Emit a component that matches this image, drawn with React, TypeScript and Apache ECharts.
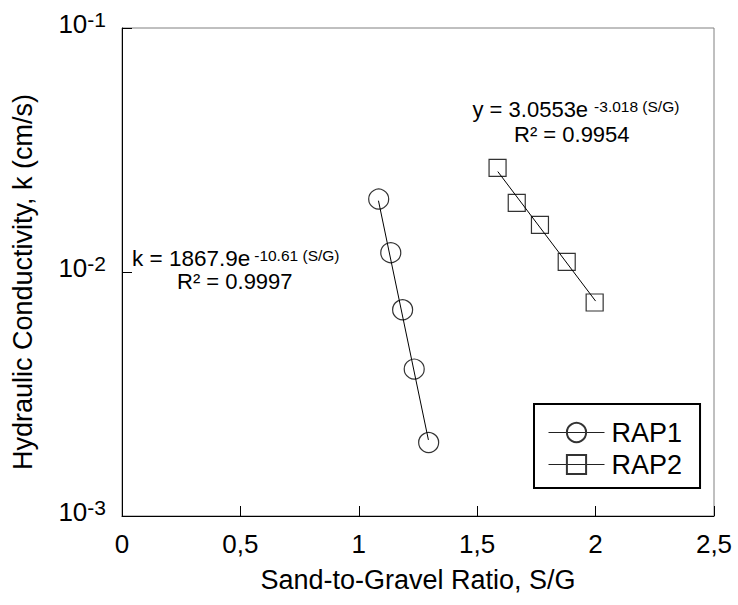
import React, { useEffect, useRef } from 'react';
import * as echarts from 'echarts';

const FONT = 'Arial, "Liberation Sans", Helvetica, sans-serif';

// Axis ticks
const xTickValues = [0, 0.5, 1, 1.5, 2, 2.5];
const xTickLabels = ['0', '0,5', '1', '1,5', '2', '2,5'];
const yTickValues = [0.001, 0.01, 0.1];
const yTickExponents = ['-3', '-2', '-1'];

// Measured data
const seriesNames = ['RAP1', 'RAP2'];
const rap1Ratio = [1.084, 1.135, 1.185, 1.234, 1.295];
const rap1K = [0.0199, 0.012, 0.007, 0.004, 0.002];
const rap2Ratio = [1.586, 1.667, 1.765, 1.878, 1.996];
const rap2K = [0.0267, 0.0192, 0.0156, 0.011, 0.0075];

// Trend line end points
const rap1TrendRatio = [1.083, 1.294];
const rap1TrendK = [0.0196, 0.00205];
const rap2TrendRatio = [1.587, 2.0];
const rap2TrendK = [0.0258, 0.0076];

// Annotation texts
const rap1Equation = 'k = 1867.9e';
const rap1Exponent = '-10.61 (S/G)';
const rap1R2 = 'R² = 0.9997';
const rap2Equation = 'y = 3.0553e';
const rap2Exponent = '-3.018 (S/G)';
const rap2R2 = 'R² = 0.9954';

const xTitle = 'Sand-to-Gravel Ratio, S/G';
const yTitle = 'Hydraulic Conductivity, k (cm/s)';

const zip = (xs: number[], ys: number[]) => xs.map((x, i) => [x, ys[i]]);

export default function App() {
  const ref = useRef<HTMLDivElement>(null);

  useEffect(() => {
    document.body.style.margin = '0';
    if (!ref.current) return;
    const chart = echarts.init(ref.current, undefined, { renderer: 'svg' });

    const makeRich = (mainSize: number, supSize: number, gap: number) => ({
      m: { fontSize: mainSize, lineHeight: 22, fontFamily: FONT, fill: '#000' },
      s: { fontSize: supSize, lineHeight: 8, verticalAlign: 'top', fontFamily: FONT, fill: '#000', padding: [0, 0, 0, gap] },
    });

    const markerStyle = { color: 'rgba(0,0,0,0)', borderColor: '#333', borderWidth: 1.2 };

    chart.setOption({
      animation: false,
      backgroundColor: '#fff',
      grid: { left: 122, right: 24, top: 28, bottom: 89, show: true, borderColor: '#808080', borderWidth: 1 },
      xAxis: {
        type: 'value',
        min: 0,
        max: 2.5,
        interval: 0.5,
        name: xTitle,
        nameLocation: 'middle',
        nameGap: 50,
        nameTextStyle: { fontSize: 27, fontFamily: FONT, color: '#000' },
        axisLine: { lineStyle: { color: '#000', width: 1 } },
        axisTick: { inside: true, length: 10, lineStyle: { color: '#000' } },
        splitLine: { show: false },
        axisLabel: {
          margin: 15,
          fontSize: 26,
          fontFamily: FONT,
          color: '#000',
          formatter: (v: number) => {
            const i = xTickValues.findIndex((t) => Math.abs(t - v) < 1e-9);
            return i >= 0 ? xTickLabels[i] : '';
          },
        },
      },
      yAxis: {
        type: 'log',
        logBase: 10,
        min: yTickValues[0],
        max: yTickValues[yTickValues.length - 1],
        name: yTitle,
        nameLocation: 'middle',
        nameRotate: 90,
        nameGap: 86,
        nameTextStyle: { fontSize: 27, fontFamily: FONT, color: '#000', padding: [0, 20, 0, 0] },
        axisLine: { show: true, lineStyle: { color: '#000', width: 1 } },
        axisTick: { show: true, inside: true, length: 10, lineStyle: { color: '#000' } },
        minorTick: { show: false },
        splitLine: { show: false },
        axisLabel: {
          margin: 16,
          padding: [0, 0, 8, 0],
          formatter: (v: number) => {
            const e = Math.round(Math.log10(v));
            const i = yTickValues.findIndex((t) => Math.round(Math.log10(t)) === e);
            return i >= 0 ? `{b|10}{s|${yTickExponents[i]}}` : '';
          },
          rich: {
            b: { fontSize: 26, lineHeight: 30, fontFamily: FONT, color: '#000' },
            s: { fontSize: 21, lineHeight: 14, verticalAlign: 'top', fontFamily: FONT, color: '#000' },
          },
        },
      },
      legend: {
        orient: 'vertical',
        left: 534,
        top: 404,
        selectedMode: false,
        borderColor: '#000',
        borderWidth: 2,
        padding: [15, 18, 10, 14],
        itemGap: 5,
        itemWidth: 56,
        itemHeight: 24,
        textStyle: { fontSize: 27, fontFamily: FONT, color: '#000', padding: [0, 0, 0, 2] },
        lineStyle: { color: '#222', width: 1, opacity: 1, type: 'solid' },
        data: seriesNames,
      },
      series: [
        {
          name: seriesNames[0],
          type: 'line',
          data: zip(rap1Ratio, rap1K),
          symbol: 'circle',
          symbolSize: 20,
          itemStyle: markerStyle,
          lineStyle: { width: 0, opacity: 0 },
          z: 2,
        },
        {
          name: seriesNames[1],
          type: 'line',
          data: zip(rap2Ratio, rap2K),
          symbol: 'rect',
          symbolSize: 17,
          itemStyle: markerStyle,
          lineStyle: { width: 0, opacity: 0 },
          z: 2,
        },
        {
          name: 'RAP1 trend',
          type: 'line',
          data: zip(rap1TrendRatio, rap1TrendK),
          symbol: 'none',
          silent: true,
          lineStyle: { color: '#000', width: 1 },
          z: 3,
        },
        {
          name: 'RAP2 trend',
          type: 'line',
          data: zip(rap2TrendRatio, rap2TrendK),
          symbol: 'none',
          silent: true,
          lineStyle: { color: '#000', width: 1 },
          z: 3,
        },
      ],
      graphic: [
        {
          type: 'text',
          x: 132,
          y: 258.5,
          style: { text: `{m|${rap1Equation}}{s|${rap1Exponent}}`, rich: makeRich(22.5, 15.5, 4), verticalAlign: 'middle', align: 'left' },
        },
        {
          type: 'text',
          x: 177,
          y: 281.5,
          style: { text: rap1R2, font: `22px ${FONT}`, lineHeight: 18, fill: '#000', verticalAlign: 'middle', align: 'left' },
        },
        {
          type: 'text',
          x: 472.5,
          y: 109.4,
          style: { text: `{m|${rap2Equation}}{s|${rap2Exponent}}`, rich: makeRich(22, 15.5, 6), verticalAlign: 'middle', align: 'left' },
        },
        {
          type: 'text',
          x: 514,
          y: 134.4,
          style: { text: rap2R2, font: `22px ${FONT}`, lineHeight: 18, fill: '#000', verticalAlign: 'middle', align: 'left' },
        },
      ],
    });

    return () => chart.dispose();
  }, []);

  return <div ref={ref} style={{ width: 738, height: 605 }} />;
}
